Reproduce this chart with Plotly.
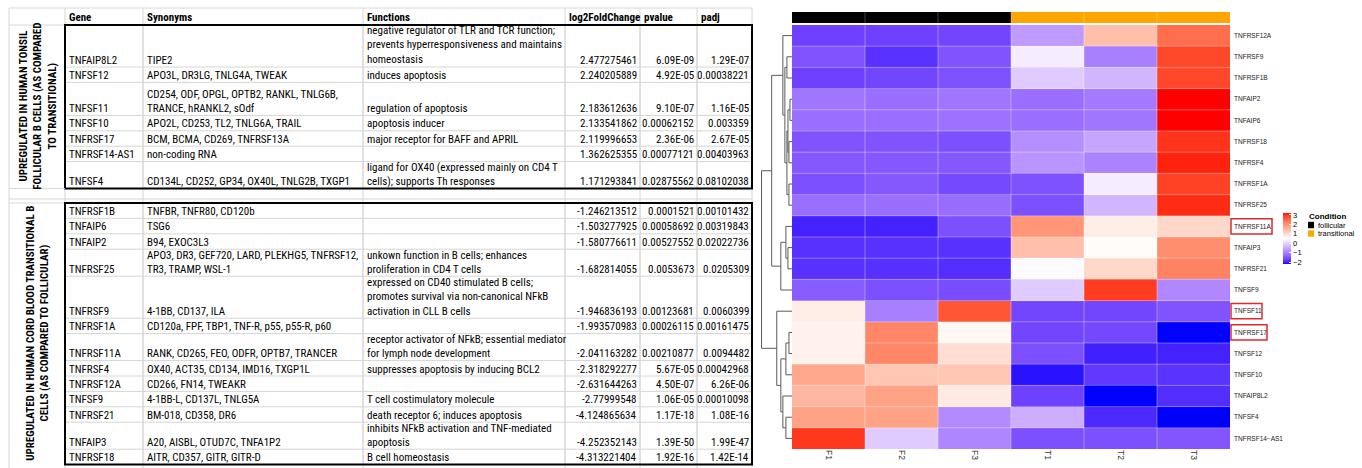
import numpy as np
import plotly.graph_objects as go

W, H = 1362, 468

# ---------------- table content ----------------
header = ["Gene", "Synonyms", "Functions", "log2FoldChange", "pvalue", "padj"]
block_titles = [
    "UPREGULATED IN HUMAN TONSIL<br>FOLLICULAR B CELLS (AS COMPARED<br>TO TRANSITIONAL)",
    "UPREGULATED IN HUMAN CORD BLOOD TRANSITIONAL B<br>CELLS (AS COMPARED TO FOLLICULAR)",
]

follicular_genes = ["TNFAIP8L2", "TNFSF12", "TNFSF11", "TNFSF10", "TNFRSF17",
                    "TNFRSF14-AS1", "TNFSF4"]
follicular_synonyms = [
    "TIPE2",
    "APO3L, DR3LG, TNLG4A, TWEAK",
    "CD254, ODF, OPGL, OPTB2, RANKL, TNLG6B,\nTRANCE, hRANKL2, sOdf",
    "APO2L, CD253, TL2, TNLG6A, TRAIL",
    "BCM, BCMA, CD269, TNFRSF13A",
    "non-coding RNA",
    "CD134L, CD252, GP34, OX40L, TNLG2B, TXGP1",
]
follicular_functions = [
    "negative regulator of TLR and TCR function;\nprevents hyperresponsiveness and maintains\nhomeostasis",
    "induces apoptosis",
    "regulation of apoptosis",
    "apoptosis inducer",
    "major receptor for BAFF and APRIL",
    "",
    "ligand for OX40 (expressed mainly on CD4 T\ncells); supports Th responses",
]
follicular_log2fc = [2.477275461, 2.240205889, 2.183612636, 2.133541862,
                     2.119996653, 1.362625355, 1.171293841]
follicular_pvalue = ["6.09E-09", "4.92E-05", "9.10E-07", "0.00062152",
                     "2.36E-06", "0.00077121", "0.02875562"]
follicular_padj = ["1.29E-07", "0.00038221", "1.16E-05", "0.003359",
                   "2.67E-05", "0.00403963", "0.08102038"]

transitional_genes = ["TNFRSF1B", "TNFAIP6", "TNFAIP2", "TNFRSF25", "TNFRSF9",
                      "TNFRSF1A", "TNFRSF11A", "TNFRSF4", "TNFRSF12A", "TNFSF9",
                      "TNFRSF21", "TNFAIP3", "TNFRSF18"]
transitional_synonyms = [
    "TNFBR, TNFR80, CD120b",
    "TSG6",
    "B94, EXOC3L3",
    "APO3, DR3, GEF720, LARD, PLEKHG5, TNFRSF12,\nTR3, TRAMP, WSL-1",
    "4-1BB, CD137, ILA",
    "CD120a, FPF, TBP1, TNF-R, p55, p55-R, p60",
    "RANK, CD265, FEO, ODFR, OPTB7, TRANCER",
    "OX40, ACT35, CD134, IMD16, TXGP1L",
    "CD266, FN14, TWEAKR",
    "4-1BB-L, CD137L, TNLG5A",
    "BM-018, CD358, DR6",
    "A20, AISBL, OTUD7C, TNFA1P2",
    "AITR, CD357, GITR, GITR-D",
]
transitional_functions = [
    "", "", "",
    "unkown function in B cells; enhances\nproliferation in CD4 T cells",
    "expressed on CD40 stimulated B cells;\npromotes survival via non-canonical NFkB\nactivation in CLL B cells",
    "",
    "receptor activator of NFkB; essential mediator\nfor lymph node development",
    "suppresses apoptosis by inducing BCL2",
    "",
    "T cell costimulatory molecule",
    "death receptor 6; induces apoptosis",
    "inhibits NFkB activation and TNF-mediated\napoptosis",
    "B cell homeostasis",
]
transitional_log2fc = [-1.246213512, -1.503277925, -1.580776611, -1.682814055,
                       -1.946836193, -1.993570983, -2.041163282, -2.318292277,
                       -2.631644263, -2.77999548, -4.124865634, -4.252352143,
                       -4.313221404]
transitional_pvalue = ["0.0001521", "0.00058692", "0.00527552", "0.0053673",
                       "0.00123681", "0.00026115", "0.00210877", "5.67E-05",
                       "4.50E-07", "1.06E-05", "1.17E-18", "1.39E-50", "1.92E-16"]
transitional_padj = ["0.00101432", "0.00319843", "0.02022736", "0.0205309",
                     "0.0060399", "0.00161475", "0.0094482", "0.00042968",
                     "6.26E-06", "0.00010098", "1.08E-16", "1.99E-47", "1.42E-14"]

# ---------------- heatmap content ----------------
heat_samples = ["F1", "F2", "F3", "T1", "T2", "T3"]
sample_condition = ["follicular", "follicular", "follicular",
                    "transitional", "transitional", "transitional"]
heat_genes = ["TNFRSF12A", "TNFRSF9", "TNFRSF1B", "TNFAIP2", "TNFAIP6", "TNFRSF18",
              "TNFRSF4", "TNFRSF1A", "TNFRSF25", "TNFRSF11A", "TNFAIP3", "TNFRSF21",
              "TNFSF9", "TNFSF11", "TNFRSF17", "TNFSF12", "TNFSF10", "TNFAIP8L2",
              "TNFSF4", "TNFRSF14\u2212AS1"]
heat_values = [
    [-1.70, -1.70, -1.65, -0.66, 1.40, 2.45],
    [-1.50, -1.86, -1.50, 0.30, -1.00, 2.85],
    [-1.70, -1.65, -1.53, -0.10, -0.35, 2.85],
    [-1.10, -1.20, -1.10, -1.20, -1.05, 3.20],
    [-1.20, -1.20, -1.15, -1.20, -1.10, 3.20],
    [-1.50, -1.50, -1.55, -0.80, -0.55, 3.00],
    [-1.45, -1.45, -1.45, -0.75, -0.95, 3.10],
    [-1.55, -1.45, -1.62, -1.52, 0.30, 2.90],
    [-1.20, -1.20, -1.22, -1.55, -0.35, 3.05],
    [-2.00, -2.00, -1.55, 1.95, 0.75, 1.05],
    [-1.87, -1.87, -1.87, 1.40, 0.55, 2.05],
    [-1.86, -1.88, -1.90, 0.45, 1.05, 2.20],
    [-1.40, -1.55, -1.58, -0.10, 2.95, -0.90],
    [0.75, -1.00, 2.70, -1.65, -1.65, -1.50],
    [0.70, 2.15, 0.60, -1.65, -1.63, -2.20],
    [0.70, 2.15, 0.95, -1.55, -2.02, -2.00],
    [1.72, 1.30, 1.30, -2.12, -1.80, -1.85],
    [1.50, 1.78, 0.78, -1.70, -2.20, -1.90],
    [1.80, 1.80, -0.85, -0.45, -1.95, -2.20],
    [2.98, -0.10, -0.92, -1.55, -1.55, -1.48],
]
highlighted_genes = ["TNFRSF11A", "TNFSF11", "TNFRSF17"]

# row dendrogram: merge i joins nodes left/right (leaves 0..19, merges 20..)
dendro_left = [1, 3, 5, 21, 7, 23, 20, 0, 10, 9, 29, 27, 14, 32, 18, 17, 33, 13, 31]
dendro_right = [2, 4, 6, 22, 8, 24, 25, 26, 11, 28, 12, 30, 15, 16, 19, 34, 35, 36, 37]
dendro_height = [5, 2, 3, 4, 3, 5, 7, 9, 4, 6, 11, 20, 3, 6, 6, 9, 11, 15, 30]

# ---------------- colour ramp (blue - white - red, Lab space) ----------------
_M = np.array([[0.4124, 0.3576, 0.1805], [0.2126, 0.7152, 0.0722], [0.0193, 0.1192, 0.9505]])
_WHITE = _M @ np.ones(3)


def _lin(c):
    c = np.asarray(c, float) / 255
    return np.where(c <= 0.04045, c / 12.92, ((c + 0.055) / 1.055) ** 2.4)


def _gam(c):
    c = np.clip(c, 0, 1)
    return np.where(c <= 0.0031308, 12.92 * c, 1.055 * c ** (1 / 2.4) - 0.055) * 255


def rgb_to_lab(rgb):
    xyz = _M @ _lin(rgb) / _WHITE
    d = 6 / 29
    f = np.where(xyz > d ** 3, np.cbrt(xyz), xyz / (3 * d * d) + 4 / 29)
    return np.array([116 * f[1] - 16, 500 * (f[0] - f[1]), 200 * (f[1] - f[2])])


def lab_to_rgb(lab):
    L, a, b = lab
    fy = (L + 16) / 116
    f = np.array([fy + a / 500, fy, fy - b / 200])
    d = 6 / 29
    xyz = np.where(f > d, f ** 3, 3 * d * d * (f - 4 / 29)) * _WHITE
    return _gam(np.linalg.solve(_M, xyz))


def lab_scale(colors, n=61):
    labs = [rgb_to_lab(c) for c in colors]
    seg = len(colors) - 1
    out = []
    for k in range(n):
        t = k / (n - 1)
        i = min(int(t * seg), seg - 1)
        u = t * seg - i
        rgb = lab_to_rgb(labs[i] * (1 - u) + labs[i + 1] * u)
        out.append([t, "rgb(%d,%d,%d)" % tuple(np.round(rgb).astype(int))])
    return out


heat_scale = lab_scale([(0, 0, 255), (255, 255, 255), (255, 0, 0)])
ZMIN, ZMAX = -2.2, 3.2

# ---------------- table geometry ----------------
col_edges = [9, 65, 143, 363, 565, 640, 697, 752]
line_h = {1: 15.4, 2: 27.0, 3: 42.0}
extra_h = {"TNFSF11": 6.0}
header_top, header_bottom = 8, 25
gap_line = 199
second_top = 203

TABLE_FONT = "Liberation Sans Narrow, Arial Narrow, Roboto Condensed, Lato, sans-serif"
TABLE_SIZE = 11
GRID = "#d6d6d6"

shapes = []
annotations = []


def hline(y, x0, x1, color=GRID, width=1):
    shapes.append(dict(type="line", xref="x", yref="y", x0=x0, x1=x1, y0=y, y1=y,
                       line=dict(color=color, width=width), layer="above"))


def vline(x, y0, y1, color=GRID, width=1):
    shapes.append(dict(type="line", xref="x", yref="y", x0=x, x1=x, y0=y0, y1=y1,
                       line=dict(color=color, width=width), layer="above"))


def cell_text(text, x, y, anchor="left", bold=False):
    if not text:
        return
    t = text.replace("\n", "<br>")
    if bold:
        t = "<b>" + t + "</b>"
    annotations.append(dict(xref="x", yref="y", x=x, y=y, text=t, showarrow=False,
                            xanchor=anchor, yanchor="bottom", align=anchor,
                            font=dict(family=TABLE_FONT, size=TABLE_SIZE, color="black"),
                            borderpad=0))


def draw_block(top, genes, syns, funcs, lfc, pv, padj, title):
    y = top
    bounds = [top]
    for g, s, f, l, p, q in zip(genes, syns, funcs, lfc, pv, padj):
        n = max(s.count("\n"), f.count("\n")) + 1
        h = line_h[n] + extra_h.get(g, 0.0)
        bottom = y + h
        ty = bottom + 0.5
        cell_text(g, col_edges[1] + 3, ty)
        cell_text(s, col_edges[2] + 3, ty)
        cell_text(f, col_edges[3] + 3, ty)
        cell_text(repr(l), col_edges[5] - 2, ty, anchor="right")
        cell_text(p, col_edges[6] - 2, ty, anchor="right")
        cell_text(q, col_edges[7] - 2, ty, anchor="right")
        y = bottom
        bounds.append(y)
    for b in bounds[1:-1]:
        hline(b, col_edges[1], col_edges[7])
    for x in col_edges[2:-1]:
        vline(x, top, y)
    annotations.append(dict(xref="x", yref="y", x=(col_edges[0] + col_edges[1]) / 2 + 1,
                            y=(top + y) / 2, text="<b>" + title + "</b>", showarrow=False,
                            textangle=-90, xanchor="center", yanchor="middle",
                            align="center",
                            font=dict(family=TABLE_FONT, size=TABLE_SIZE, color="black")))
    shapes.append(dict(type="rect", xref="x", yref="y", x0=col_edges[1], x1=col_edges[7],
                       y0=top, y1=y, line=dict(color="black", width=2), layer="above"))
    return y


# outer grid of the sheet
hline(header_top, col_edges[0], col_edges[7])
hline(header_bottom, col_edges[0], col_edges[1])
for x in col_edges:
    vline(x, header_top, H)
for k, name in enumerate(header):
    cell_text(name, col_edges[k + 1] + 3, header_bottom, bold=True)

end1 = draw_block(header_bottom, follicular_genes, follicular_synonyms, follicular_functions,
                  follicular_log2fc, follicular_pvalue, follicular_padj, block_titles[0])
hline(end1, col_edges[0], col_edges[1])
hline(gap_line, col_edges[0], col_edges[7])
hline(second_top, col_edges[0], col_edges[1])
end2 = draw_block(second_top, transitional_genes, transitional_synonyms, transitional_functions,
                  transitional_log2fc, transitional_pvalue, transitional_padj, block_titles[1])

# ---------------- heatmap geometry ----------------
HX0, HX1 = 792, 1230
HY0, HY1 = 25, 449
AY0, AY1 = 12, 23
DX0 = 760
n_rows, n_cols = len(heat_genes), len(heat_samples)


def px(v):
    return v / W


def py(v):
    return 1 - v / H


fig = go.Figure()

# invisible anchor for the sheet coordinate system
fig.add_trace(go.Scatter(x=[0, W], y=[0, H], mode="markers", marker=dict(opacity=0),
                         hoverinfo="skip", showlegend=False, xaxis="x", yaxis="y"))

fig.add_trace(go.Heatmap(
    z=heat_values, x=list(range(n_cols)), y=list(range(n_rows)),
    colorscale=heat_scale, zmin=ZMIN, zmax=ZMAX, xaxis="x2", yaxis="y2",
    colorbar=dict(thickness=8, len=51, lenmode="pixels", x=px(1283), xanchor="left",
                  y=py(238.5), yanchor="middle", xpad=0, ypad=0, outlinewidth=0,
                  tickvals=[-2, -1, 0, 1, 2, 3],
                  ticktext=["\u22122", "\u22121", "0", "1", "2", "3"],
                  ticks="inside", ticklen=2, tickcolor="white",
                  tickfont=dict(family="Liberation Sans, Arial, sans-serif", size=7.5,
                                color="black")),
))

cond_levels = ["follicular", "transitional"]
cond_colors = ["#000000", "#FFA500"]
fig.add_trace(go.Heatmap(
    z=[[cond_levels.index(c) for c in sample_condition]], x=list(range(n_cols)), y=[0],
    colorscale=[[0, cond_colors[0]], [0.5, cond_colors[0]], [0.5, cond_colors[1]],
                [1, cond_colors[1]]],
    zmin=0, zmax=1, showscale=False, xaxis="x3", yaxis="y3", hoverinfo="skip",
))

# dendrogram coordinates
node_pos = {i: float(i) for i in range(n_rows)}
node_h = {i: 0.0 for i in range(n_rows)}
dx, dy = [], []
for k, (a, b, h) in enumerate(zip(dendro_left, dendro_right, dendro_height)):
    nid = n_rows + k
    dx += [node_h[a], h, h, node_h[b], None]
    dy += [node_pos[a], node_pos[a], node_pos[b], node_pos[b], None]
    node_pos[nid] = (node_pos[a] + node_pos[b]) / 2
    node_h[nid] = h
fig.add_trace(go.Scatter(x=dx, y=dy, mode="lines", line=dict(color="#5a5a5a", width=1),
                         hoverinfo="skip", showlegend=False, xaxis="x4", yaxis="y4"))

# faint cell borders
for i in range(1, n_cols):
    shapes.append(dict(type="line", xref="x2", yref="y2", x0=i - 0.5, x1=i - 0.5,
                       y0=-0.5, y1=n_rows - 0.5,
                       line=dict(color="rgba(255,255,255,0.35)", width=1), layer="above"))
    shapes.append(dict(type="line", xref="x3", yref="y3", x0=i - 0.5, x1=i - 0.5,
                       y0=-0.5, y1=0.5,
                       line=dict(color="rgba(255,255,255,0.25)", width=1), layer="above"))
for j in range(1, n_rows):
    shapes.append(dict(type="line", xref="x2", yref="y2", x0=-0.5, x1=n_cols - 0.5,
                       y0=j - 0.5, y1=j - 0.5,
                       line=dict(color="rgba(255,255,255,0.35)", width=1), layer="above"))

# red frames around selected row labels
label_width = {"TNFRSF11A": 41, "TNFSF11": 31, "TNFRSF17": 36}
for g in highlighted_genes:
    r = heat_genes.index(g)
    shapes.append(dict(type="rect", xref="x", yref="y2", x0=1231, x1=1231 + label_width[g],
                       y0=r - 0.36, y1=r + 0.36,
                       line=dict(color="#e0282c", width=1.5), layer="above"))

# condition legend
LEG_FONT = "Liberation Sans, Arial, sans-serif"
annotations.append(dict(xref="x", yref="y", x=1307, y=216, text="<b>Condition</b>",
                        showarrow=False, xanchor="left", yanchor="middle",
                        font=dict(family=LEG_FONT, size=8, color="black")))
for k, (lvl, col) in enumerate(zip(cond_levels, cond_colors)):
    yc = 225 + k * 8.5
    shapes.append(dict(type="rect", xref="x", yref="y", x0=1308, x1=1314,
                       y0=yc - 3.2, y1=yc + 3.2, line=dict(width=0), fillcolor=col))
    annotations.append(dict(xref="x", yref="y", x=1316, y=yc, text=lvl, showarrow=False,
                            xanchor="left", yanchor="middle",
                            font=dict(family=LEG_FONT, size=7.5, color="black")))

hidden = dict(visible=False, showgrid=False, zeroline=False)
fig.update_layout(
    width=W, height=H, margin=dict(l=0, r=0, t=0, b=0, pad=0),
    paper_bgcolor="white", plot_bgcolor="white", showlegend=False,
    xaxis=dict(domain=[0, 1], range=[0, W], **hidden),
    yaxis=dict(domain=[0, 1], range=[H, 0], **hidden),
    xaxis2=dict(domain=[px(HX0), px(HX1)], range=[-0.5, n_cols - 0.5], anchor="y2",
                tickmode="array", tickvals=list(range(n_cols)), ticktext=heat_samples,
                tickangle=90, ticks="", showgrid=False, zeroline=False, showline=False,
                tickfont=dict(family=LEG_FONT, size=8.5, color="#333")),
    yaxis2=dict(domain=[py(HY1), py(HY0)], range=[n_rows - 0.5, -0.5], anchor="x2",
                side="right", tickmode="array", tickvals=list(range(n_rows)),
                ticktext=heat_genes, ticks="", showgrid=False, zeroline=False,
                showline=False, ticklabelstandoff=3,
                tickfont=dict(family=LEG_FONT, size=6.5, color="#222")),
    xaxis3=dict(domain=[px(HX0), px(HX1)], range=[-0.5, n_cols - 0.5], anchor="y3",
                **hidden),
    yaxis3=dict(domain=[py(AY1), py(AY0)], range=[-0.5, 0.5], anchor="x3", **hidden),
    xaxis4=dict(domain=[px(DX0), px(HX0)], range=[max(dendro_height) + 1.5, 0],
                anchor="y4", **hidden),
    yaxis4=dict(domain=[py(HY1), py(HY0)], range=[n_rows - 0.5, -0.5], anchor="x4",
                **hidden),
    shapes=shapes,
    annotations=annotations,
)

fig.write_html("out.html")
